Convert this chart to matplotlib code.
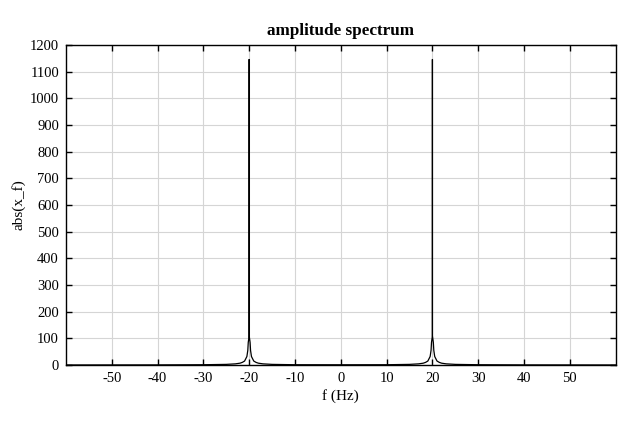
import matplotlib
matplotlib.use("Agg")
import matplotlib.pyplot as plt

plt.rcParams['font.family'] = ['Liberation Serif', 'DejaVu Serif']
plt.rcParams['axes.unicode_minus'] = False

# spectrum (left half, mirrored for f > 0)
freq_left = [-60, -40, -30, -25, -23, -22, -21.5, -21, -20.5, -20.3, -20.2,
             -20, -20, -20, -19.8, -19.7, -19.5, -19, -18.5, -18, -17, -15, -10]
amp_left = [0.3, 0.6, 1.2, 2.5, 4.5, 7, 10, 15, 32, 55, 85,
            110, 1145, 110, 85, 55, 32, 15, 10, 7, 4.5, 2.5, 1.2]
freq_mid = [0]
amp_mid = [1.0]

xticks = [-50, -40, -30, -20, -10, 0, 10, 20, 30, 40, 50]
yticks = list(range(0, 1300, 100))

f = freq_left + freq_mid + [-v for v in freq_left[::-1]]
a = amp_left + amp_mid + amp_left[::-1]

fig = plt.figure(figsize=(6.4, 4.23), dpi=100)
ax = fig.add_axes([0.103, 0.137, 0.859, 0.757])
ax.plot(f, a, color='black', linewidth=0.9)

ax.set_xlim(-60, 60)
ax.set_ylim(0, 1200)
ax.set_xticks(xticks)
ax.set_yticks(yticks)
ax.grid(True, color='#d5d5d5', linewidth=0.8)
ax.set_axisbelow(True)
ax.tick_params(direction='in', top=True, right=True, length=4, width=1,
               labelsize=10.5, pad=5)
for s in ax.spines.values():
    s.set_linewidth(1)

ax.set_title('amplitude spectrum', fontsize=12.3, fontweight='bold', pad=7)
ax.set_xlabel('f (Hz)', fontsize=11, labelpad=3)
ax.set_ylabel('abs(x_f)', fontsize=11, labelpad=3)

fig.savefig('out.png', dpi=100)
